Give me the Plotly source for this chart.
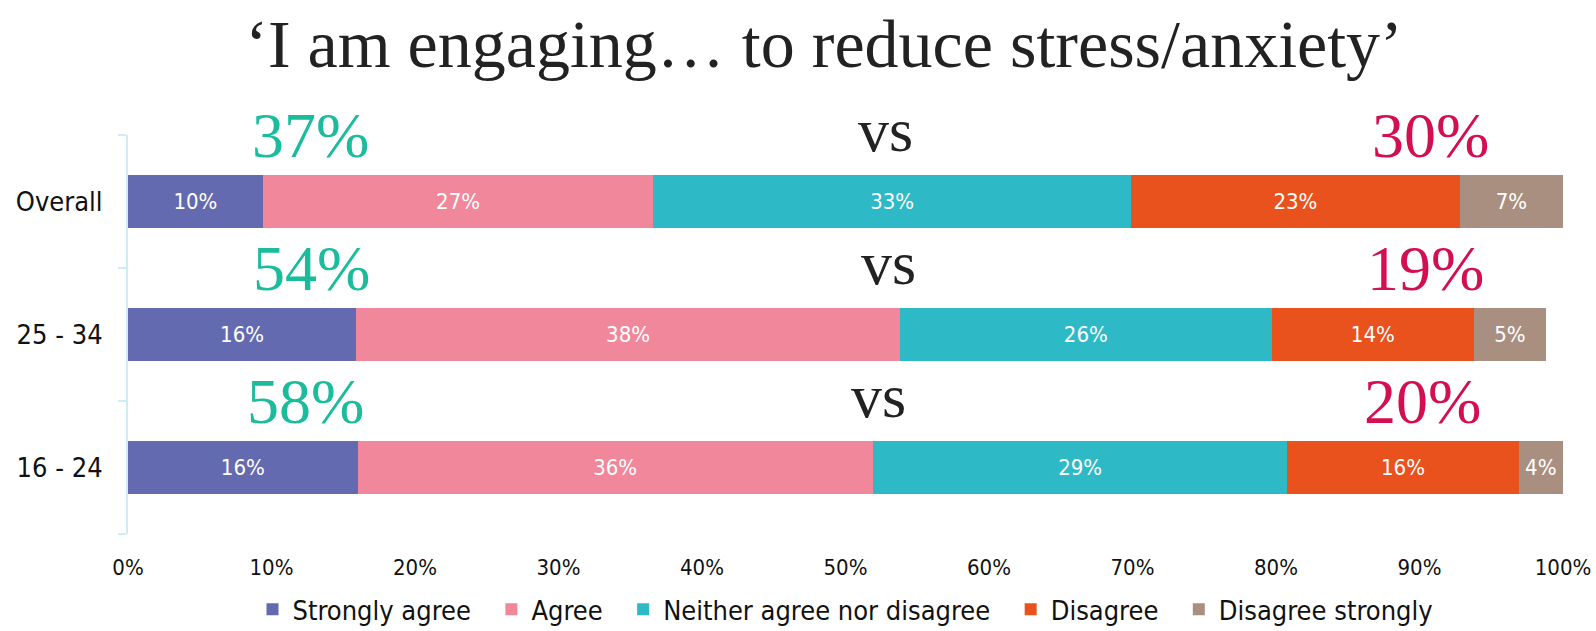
import plotly.graph_objects as go

categories = ["Overall", "25 - 34", "16 - 24"]
series_names = ["Strongly agree", "Agree", "Neither agree nor disagree", "Disagree", "Disagree strongly"]
strongly_agree = [9.4, 15.9, 16.0]
agree = [27.2, 37.9, 35.9]
neither = [33.3, 25.9, 28.9]
disagree = [22.9, 14.1, 16.1]
disagree_strongly = [7.2, 5.0, 3.1]
label_strongly_agree = ["10%", "16%", "16%"]
label_agree = ["27%", "38%", "36%"]
label_neither = ["33%", "26%", "29%"]
label_disagree = ["23%", "14%", "16%"]
label_disagree_strongly = ["7%", "5%", "4%"]
agree_totals = ["37%", "54%", "58%"]
disagree_totals = ["30%", "19%", "20%"]
agree_total_x = [12.75, 12.8, 12.4]
vs_x = [52.8, 53.0, 52.3]
disagree_total_x = [90.8, 90.4, 90.2]
x_ticks = list(range(0, 101, 10))

colors = ["#646AB0", "#F0879A", "#2EB9C7", "#E9511D", "#A98F80"]
values = [strongly_agree, agree, neither, disagree, disagree_strongly]
labels = [label_strongly_agree, label_agree, label_neither, label_disagree, label_disagree_strongly]

SANS = "DejaVu Sans Condensed, DejaVu Sans, sans-serif"
SERIF = "Liberation Serif, DejaVu Serif, serif"
PAD = "\u00a0\u00a0"

fig = go.Figure()
for k, (name, vals, labs, col) in enumerate(zip(series_names, values, labels, colors)):
    fig.add_trace(go.Bar(
        y=categories, x=vals, name=name + (PAD if k < len(series_names) - 1 else ""),
        orientation="h",
        marker=dict(color=col, line=dict(width=0)),
        text=labs, textposition="inside", insidetextanchor="middle", constraintext="none",
        textfont=dict(color="white", size=22, family=SANS),
        hoverinfo="skip",
    ))

annotations = []
for i, cat in enumerate(categories):
    annotations.append(dict(x=agree_total_x[i], y=cat, xref="x", yref="y", text=agree_totals[i],
                            showarrow=False, yanchor="bottom", yshift=29,
                            font=dict(family=SERIF, size=64, color="#1ABC9C")))
    annotations.append(dict(x=vs_x[i], y=cat, xref="x", yref="y", text="vs",
                            showarrow=False, yanchor="bottom", yshift=36,
                            font=dict(family=SERIF, size=62, color="#222222")))
    annotations.append(dict(x=disagree_total_x[i], y=cat, xref="x", yref="y", text=disagree_totals[i],
                            showarrow=False, yanchor="bottom", yshift=29,
                            font=dict(family=SERIF, size=64, color="#D40E52")))

fig.update_layout(
    width=1596, height=631,
    barmode="stack", bargap=0.6,
    plot_bgcolor="white", paper_bgcolor="white",
    margin=dict(l=128, r=33, t=135, b=97, autoexpand=False),
    title=dict(text="\u2018I am engaging\u2026 to reduce stress/anxiety\u2019",
               x=824/1596, xanchor="center", xref="container",
               y=1 - 43/631, yanchor="middle", yref="container",
               font=dict(family=SERIF, size=68, color="#222222")),
    showlegend=True,
    legend=dict(orientation="h", x=0.5, xanchor="center", y=-0.19, yanchor="middle",
                font=dict(family=SANS, size=27, color="#111111"), traceorder="normal",
                itemclick=False),
    annotations=annotations,
    font=dict(family=SANS),
)
fig.update_xaxes(range=[0, 100], tickvals=x_ticks, ticktext=[f"{v}%" for v in x_ticks],
                 showgrid=False, zeroline=False, showline=False, automargin=False,
                 ticks="outside", ticklen=14, tickcolor="rgba(0,0,0,0)",
                 tickfont=dict(family=SANS, size=22, color="#111111"), fixedrange=True)
fig.update_yaxes(categoryorder="array", categoryarray=categories[::-1], range=[-0.5, 2.5],
                 showgrid=False, zeroline=False, showline=True, linecolor="#CDEEF2", linewidth=2,
                 automargin=False,
                 ticks="outside", tickson="boundaries", ticklen=8, tickcolor="#CDEEF2", tickwidth=2,
                 ticklabelstandoff=18,
                 tickfont=dict(family=SANS, size=27, color="#111111"), fixedrange=True)

fig.write_html("out.html")
